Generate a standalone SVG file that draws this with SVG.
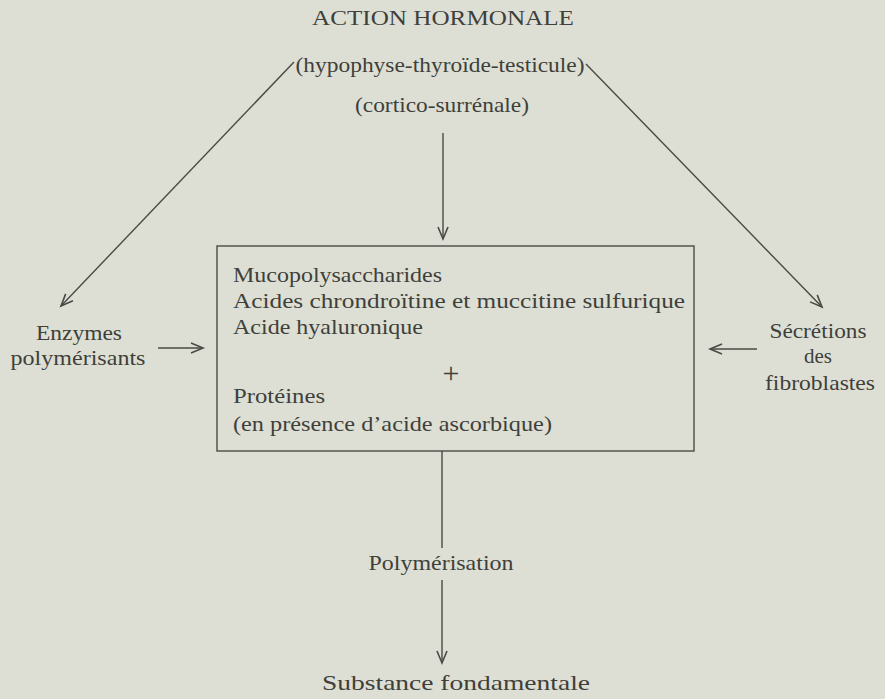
<svg xmlns="http://www.w3.org/2000/svg" width="885" height="699" viewBox="0 0 885 699">
<style>
text{font-family:"Liberation Serif","DejaVu Serif",serif;fill:#403f3a;font-size:21px}
.c{text-anchor:middle}
.ln{stroke:#4a4a45;stroke-width:1.4;fill:none}
</style>
<defs>
<marker id="ah" markerUnits="userSpaceOnUse" markerWidth="16" markerHeight="14" refX="13" refY="6" orient="auto">
<path d="M1,1 L13,6 L1,11" fill="none" stroke="#4a4a45" stroke-width="1.6"/>
</marker>
</defs>
<rect width="885" height="699" fill="#dddfd5"/>
<g id="top">
<text class="c" x="443" y="25" textLength="262" lengthAdjust="spacingAndGlyphs">ACTION HORMONALE</text>
<text class="c" x="440" y="72" textLength="289" lengthAdjust="spacingAndGlyphs">(hypophyse-thyroïde-testicule)</text>
<text class="c" x="442" y="112" textLength="174" lengthAdjust="spacingAndGlyphs">(cortico-surrénale)</text>
</g>
<g id="box">
<rect class="ln" x="217" y="246" width="477" height="205"/>
<text x="233" y="282" textLength="209" lengthAdjust="spacingAndGlyphs">Mucopolysaccharides</text>
<text x="233" y="308" textLength="452" lengthAdjust="spacingAndGlyphs">Acides chrondroïtine  et  muccitine  sulfurique</text>
<text x="233" y="334" textLength="190" lengthAdjust="spacingAndGlyphs">Acide hyaluronique</text>
<text class="c" x="451" y="383" style="font-size:30px">+</text>
<text x="233" y="403" textLength="92" lengthAdjust="spacingAndGlyphs">Protéines</text>
<text x="233" y="431" textLength="319" lengthAdjust="spacingAndGlyphs">(en présence d’acide ascorbique)</text>
</g>
<g id="enzymes">
<text class="c" x="79" y="340" textLength="86" lengthAdjust="spacingAndGlyphs">Enzymes</text>
<text class="c" x="78" y="365" textLength="135" lengthAdjust="spacingAndGlyphs">polymérisants</text>
</g>
<g id="secretions">
<text class="c" x="818" y="338" textLength="97" lengthAdjust="spacingAndGlyphs">Sécrétions</text>
<text class="c" x="818" y="363">des</text>
<text class="c" x="820" y="390" textLength="110" lengthAdjust="spacingAndGlyphs">fibroblastes</text>
</g>
<g id="polym">
<text class="c" x="441" y="570" textLength="145" lengthAdjust="spacingAndGlyphs">Polymérisation</text>
</g>
<g id="substance">
<text class="c" x="456" y="690" textLength="268" lengthAdjust="spacingAndGlyphs">Substance fondamentale</text>
</g>
<g id="connectors">
<line class="ln" x1="294" y1="62" x2="61" y2="306" marker-end="url(#ah)"/>
<line class="ln" x1="586" y1="64" x2="822" y2="307" marker-end="url(#ah)"/>
<line class="ln" x1="443" y1="133" x2="443" y2="239" marker-end="url(#ah)"/>
<line class="ln" x1="158" y1="348" x2="203" y2="348" marker-end="url(#ah)"/>
<line class="ln" x1="757" y1="349" x2="710" y2="349" marker-end="url(#ah)"/>
<line class="ln" x1="442" y1="451" x2="442" y2="548"/>
<line class="ln" x1="442" y1="580" x2="442" y2="663" marker-end="url(#ah)"/>
</g>
</svg>
